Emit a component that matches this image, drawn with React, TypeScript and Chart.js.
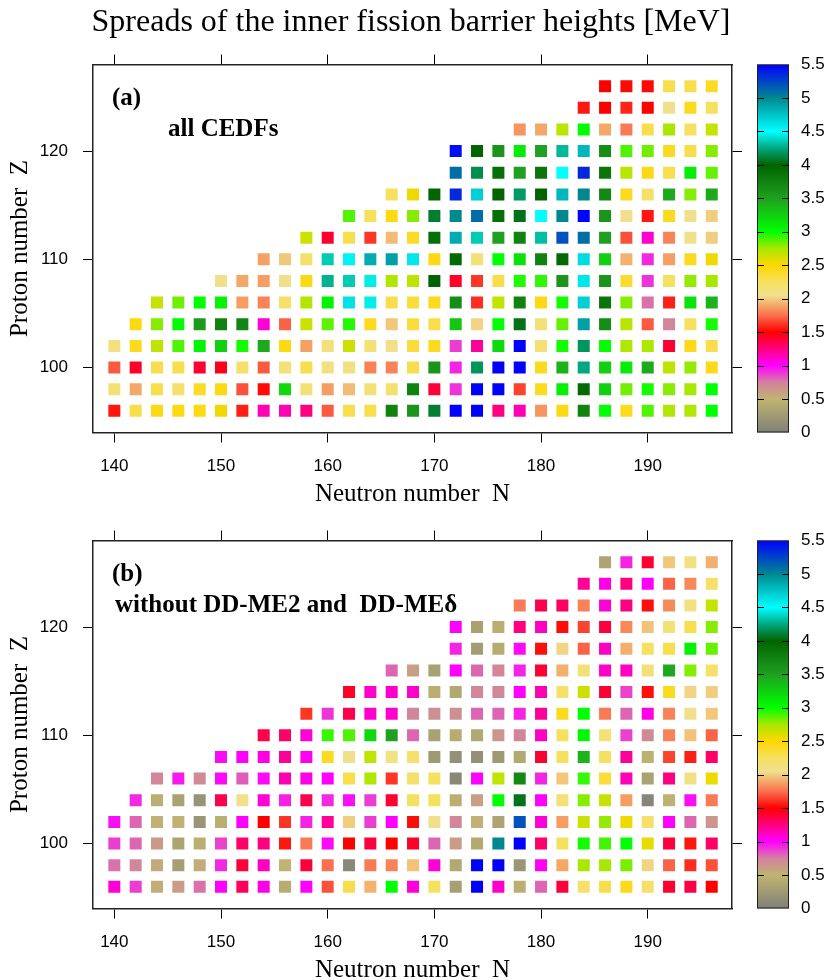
import React, { useEffect, useRef } from 'react';
import { Chart, registerables } from 'chart.js';

Chart.register(...registerables);

// ---------- data ----------
const Z_ROWS = [96, 98, 100, 102, 104, 106, 108, 110, 112, 114, 116, 118, 120, 122, 124, 126];
const ROW_FIRST_N = [140, 140, 140, 140, 142, 144, 150, 154, 158, 162, 166, 172, 172, 178, 184, 186];

// (a) all CEDFs : spread of inner barrier heights [MeV], one row per Z (N from ROW_FIRST_N in steps of 2)
const SPREAD_ALL: number[][] = [
  [1.55, 2.3, 2.45, 2.45, 2.45, 2.55, 1.57, 1.15, 1.15, 1.25, 1.7, 2.3, 2.3, 3.75, 3.6, 4.1, 5.5, 5.5, 1.25, 1.15, 1.85, 2.45, 3.75, 3.0, 2.42, 2.88, 2.72, 2.73, 3.0],
  [2.15, 1.9, 2.3, 2.2, 2.4, 2.45, 1.68, 1.52, 3.2, 2.15, 1.87, 1.95, 2.15, 2.2, 3.75, 1.38, 0.9, 5.5, 5.5, 1.65, 2.42, 3.08, 3.95, 3.25, 2.83, 2.97, 2.8, 2.75, 3.0],
  [1.7, 1.42, 2.3, 2.3, 1.4, 1.45, 2.2, 1.7, 2.15, 2.3, 2.1, 2.1, 1.8, 1.8, 2.3, 3.6, 0.93, 4.18, 5.5, 5.5, 2.42, 3.4, 4.25, 3.25, 3.1, 3.45, 2.68, 2.78, 2.43],
  [2.1, 2.42, 2.68, 2.88, 3.07, 3.25, 2.97, 3.45, 2.45, 1.88, 2.15, 2.65, 2.15, 2.07, 2.35, 2.42, 0.88, 1.2, 3.2, 5.5, 2.15, 2.97, 4.18, 3.0, 2.73, 2.73, 1.4, 2.43, 2.3],
  [2.45, 2.8, 3.02, 3.55, 3.75, 3.72, 1.08, 1.72, 2.65, 2.86, 2.95, 2.42, 1.98, 2.35, 2.3, 3.3, 2.02, 3.0, 4.05, 2.15, 2.85, 4.9, 3.65, 2.7, 1.7, 0.72, 2.25, 2.97],
  [2.67, 2.83, 3.0, 3.07, 1.87, 1.8, 2.2, 2.72, 3.07, 4.62, 4.45, 2.3, 2.35, 2.42, 3.65, 1.6, 2.68, 3.75, 2.45, 2.97, 4.7, 3.85, 2.8, 0.78, 1.57, 3.15, 3.4],
  [2.05, 1.9, 1.87, 2.05, 2.45, 4.28, 4.35, 4.45, 2.73, 2.7, 4.0, 1.42, 1.62, 2.3, 2.95, 2.93, 3.6, 4.6, 3.6, 2.38, 0.9, 2.25, 2.78, 2.75],
  [1.88, 1.98, 2.2, 4.35, 4.55, 4.85, 4.9, 4.6, 2.45, 3.95, 2.15, 3.0, 3.15, 3.75, 3.95, 4.65, 3.25, 1.93, 0.92, 1.87, 2.42, 2.55],
  [2.65, 1.4, 2.3, 1.62, 1.95, 2.4, 3.9, 4.85, 4.35, 3.5, 3.75, 4.32, 5.2, 5.1, 3.5, 1.68, 1.1, 1.8, 2.05, 2.0],
  [2.88, 2.25, 2.45, 2.8, 4.1, 5.0, 5.1, 3.9, 4.05, 4.5, 5.0, 5.5, 3.6, 2.05, 1.55, 2.42, 2.05, 2.0],
  [2.25, 2.55, 3.98, 5.35, 4.7, 4.0, 4.2, 4.0, 4.8, 5.0, 3.7, 2.42, 2.2, 3.45, 2.8, 3.45],
  [5.1, 4.15, 3.9, 3.5, 3.85, 4.5, 5.35, 3.85, 2.7, 2.45, 2.3, 3.1, 2.85],
  [5.45, 4.0, 3.6, 3.1, 3.5, 4.3, 4.8, 3.65, 2.88, 2.83, 2.42, 2.3, 2.8],
  [1.85, 1.9, 2.7, 3.02, 1.9, 1.78, 2.3, 2.75, 2.25, 2.67],
  [1.55, 1.5, 1.58, 1.5, 2.05, 2.42, 2.25],
  [1.5, 1.52, 1.52, 2.3, 2.3, 2.4],
];

// (b) without DD-ME2 and DD-MEdelta
const SPREAD_REDUCED: number[][] = [
  [1.08, 0.88, 0.54, 0.62, 0.78, 1.0, 1.32, 1.05, 0.42, 1.0, 1.68, 2.3, 1.93, 3.0, 1.07, 2.25, 0.3, 5.5, 1.1, 0.45, 0.8, 1.38, 2.2, 2.3, 2.43, 2.2, 1.4, 1.36, 1.5],
  [0.78, 0.72, 0.55, 0.3, 0.54, 0.92, 1.38, 1.12, 0.5, 1.38, 1.75, 0.08, 1.78, 1.8, 1.97, 1.08, 0.38, 5.5, 5.5, 0.2, 1.02, 1.9, 2.75, 2.75, 2.82, 2.02, 1.72, 1.6, 1.68],
  [0.88, 0.8, 0.63, 0.35, 0.45, 0.87, 1.3, 1.25, 1.55, 1.78, 0.98, 1.5, 1.38, 1.5, 1.42, 0.8, 0.62, 0.4, 5.0, 5.5, 1.3, 2.25, 2.97, 2.9, 3.0, 2.57, 1.38, 1.55, 1.3],
  [0.97, 0.8, 0.52, 0.52, 0.2, 0.45, 1.0, 1.5, 1.62, 0.93, 1.2, 2.0, 0.88, 1.0, 1.53, 2.05, 0.72, 0.52, 0.35, 5.2, 1.08, 1.87, 2.65, 2.78, 2.55, 2.2, 1.0, 0.8, 0.65],
  [0.92, 0.45, 0.33, 0.18, 1.35, 2.05, 1.08, 0.94, 1.35, 0.92, 0.97, 0.88, 1.4, 2.25, 2.25, 0.45, 0.6, 3.0, 4.05, 1.0, 2.15, 2.8, 2.67, 1.87, 0.05, 0.48, 0.97, 1.78],
  [0.72, 0.95, 0.7, 0.98, 0.82, 0.98, 1.15, 1.05, 1.0, 2.3, 2.73, 1.62, 2.2, 2.25, 0.08, 1.0, 2.68, 3.7, 0.93, 1.98, 2.92, 2.35, 1.15, 0.33, 1.25, 2.08, 2.55],
  [0.98, 1.0, 1.05, 1.2, 1.03, 2.42, 2.05, 2.68, 2.1, 2.2, 0.25, 0.15, 0.15, 0.25, 0.4, 1.4, 2.25, 3.4, 2.25, 1.2, 0.47, 1.65, 1.57, 1.3],
  [1.35, 1.3, 1.08, 2.92, 2.88, 3.2, 3.5, 0.8, 0.33, 0.42, 0.38, 0.65, 0.72, 1.12, 2.25, 3.05, 2.15, 0.87, 0.7, 1.8, 1.97, 1.72],
  [1.62, 0.9, 1.35, 1.1, 1.1, 0.72, 0.68, 0.68, 0.8, 0.8, 0.93, 1.2, 2.42, 3.0, 1.78, 0.8, 1.05, 1.8, 2.05, 1.98],
  [1.42, 1.1, 1.1, 1.1, 0.45, 0.38, 0.72, 0.72, 1.0, 1.15, 2.2, 2.65, 1.4, 0.87, 1.53, 2.42, 2.02, 2.0],
  [0.8, 0.6, 0.32, 1.0, 0.8, 0.72, 0.93, 1.4, 1.92, 2.15, 1.1, 1.12, 2.15, 3.45, 2.8, 2.2],
  [0.93, 0.28, 0.42, 0.98, 1.53, 2.02, 1.72, 1.12, 1.92, 2.25, 2.3, 3.07, 2.85],
  [1.0, 0.32, 0.45, 1.25, 1.12, 1.53, 1.65, 1.38, 1.82, 1.97, 2.15, 2.3, 2.8],
  [1.78, 1.35, 1.32, 1.8, 1.08, 1.25, 1.53, 1.82, 2.1, 2.67],
  [1.2, 1.05, 1.25, 1.02, 1.72, 1.82, 2.2],
  [0.35, 0.93, 1.4, 1.98, 2.1, 1.92],
];

const N_TICKS = [140, 150, 160, 170, 180, 190];
const Z_TICKS = [100, 110, 120];
const CBAR_TICKS = [0, 0.5, 1, 1.5, 2, 2.5, 3, 3.5, 4, 4.5, 5, 5.5];
const CBAR_MAX = 5.5;

const CMAP_VALUES = [0, 0.5, 0.75, 1.0, 1.25, 1.5, 1.75, 1.9, 2.05, 2.25, 2.5, 2.75, 3.0, 3.5, 4.0, 4.25, 4.5, 5.0, 5.5];
const CMAP_COLORS = ['#808078', '#c0b470', '#d480a0', '#ff00ff', '#ff0080', '#ff0000', '#fa7050', '#f4a868', '#f0e08c', '#f6e060', '#ffd700', '#a8e800', '#00ff00', '#20a020', '#006400', '#00a880', '#00ffff', '#008890', '#0000ff'];

// ---------- helpers ----------
function hexToRgb(h: string): number[] {
  return [parseInt(h.slice(1, 3), 16), parseInt(h.slice(3, 5), 16), parseInt(h.slice(5, 7), 16)];
}
function colorFor(v: number): string {
  const x = Math.max(0, Math.min(CBAR_MAX, v));
  for (let i = 0; i < CMAP_VALUES.length - 1; i++) {
    const a = CMAP_VALUES[i], b = CMAP_VALUES[i + 1];
    if (x >= a && x <= b) {
      const t = (x - a) / (b - a);
      const ca = hexToRgb(CMAP_COLORS[i]), cb = hexToRgb(CMAP_COLORS[i + 1]);
      const c = ca.map((u, k) => Math.round(u + (cb[k] - u) * t));
      return `rgb(${c[0]},${c[1]},${c[2]})`;
    }
  }
  return CMAP_COLORS[CMAP_COLORS.length - 1];
}
function buildPoints(rows: number[][]) {
  const pts: { x: number; y: number; v: number }[] = [];
  rows.forEach((row, i) => {
    const z = Z_ROWS[i];
    const n0 = ROW_FIRST_N[i];
    row.forEach((v, j) => pts.push({ x: n0 + 2 * j, y: z, v }));
  });
  return pts;
}

const SERIF = 'Liberation Serif';
const SANS = 'Liberation Sans';

type PanelSpec = {
  rows: number[][];
  tag: string;
  caption: string;
  captionX: number;
  title?: string;
  width: number;
  height: number;
  padTop: number;
  bottomAxisH: number;
  xTitlePadBottom: number;
};

function makeChart(canvas: HTMLCanvasElement, spec: PanelSpec) {
  const pts = buildPoints(spec.rows);
  const colors = pts.map((p) => colorFor(p.v));

  const panelPlugin = {
    id: 'panelExtras',
    afterDraw(chart: any) {
      const { ctx, chartArea } = chart;
      const { top, bottom, right, left } = chartArea;
      ctx.save();
      // panel texts
      ctx.fillStyle = '#000';
      ctx.textBaseline = 'middle';
      ctx.textAlign = 'left';
      ctx.font = `bold 25px "${SERIF}"`;
      ctx.fillText(spec.tag, left + 19, top + 34.5);
      ctx.fillText(spec.caption, left + spec.captionX, top + 65.5);

      // colour bar
      const bx = right + 25;
      const bw = 32;
      const yOf = (v: number) => bottom - (v / CBAR_MAX) * (bottom - top);
      const grad = ctx.createLinearGradient(0, bottom, 0, top);
      CMAP_VALUES.forEach((v, i) => grad.addColorStop(v / CBAR_MAX, CMAP_COLORS[i]));
      ctx.fillStyle = grad;
      ctx.fillRect(bx, top, bw, bottom - top);
      ctx.strokeStyle = '#222';
      ctx.lineWidth = 1;
      ctx.strokeRect(bx + 0.5, top + 0.5, bw - 1, bottom - top - 1);
      ctx.beginPath();
      CBAR_TICKS.forEach((v) => {
        if (v <= 0 || v >= CBAR_MAX) return;
        const y = Math.round(yOf(v)) + 0.5;
        ctx.moveTo(bx, y);
        ctx.lineTo(bx + 7, y);
        ctx.moveTo(bx + bw - 7, y);
        ctx.lineTo(bx + bw, y);
      });
      ctx.strokeStyle = '#000';
      ctx.stroke();
      ctx.fillStyle = '#000';
      ctx.font = `17px "${SANS}"`;
      ctx.textAlign = 'left';
      ctx.textBaseline = 'middle';
      CBAR_TICKS.forEach((v) => {
        ctx.fillText(String(v), bx + bw + 12, yOf(v));
      });
      ctx.restore();
    },
  };

  const tickFont = { family: SANS, size: 17 };
  const gridOpts = { display: true, drawOnChartArea: false, drawTicks: true, tickLength: 10, color: '#000', lineWidth: 1 };
  const borderOpts = { display: true, color: '#222', width: 1.5 };

  return new Chart(canvas, {
    type: 'scatter',
    data: {
      datasets: [
        {
          data: pts,
          pointStyle: 'rect',
          pointRadius: 8.49,
          pointHoverRadius: 8.49,
          pointBackgroundColor: colors,
          pointBorderWidth: 0,
          pointBorderColor: colors,
        } as any,
      ],
    },
    options: {
      responsive: false,
      animation: false,
      events: [],
      layout: { padding: { left: 0, right: 12, top: spec.padTop, bottom: 0 } },
      plugins: {
        legend: { display: false },
        tooltip: { enabled: false },
        title: spec.title
          ? {
              display: true,
              text: spec.title,
              color: '#000',
              font: { family: SERIF, size: 32, weight: 'normal', lineHeight: 1.2 },
              padding: { top: 3.5, bottom: 12.6 },
            }
          : { display: false },
      },
      scales: {
        x: {
          type: 'linear',
          position: 'bottom',
          min: 138,
          max: 197.9,
          afterBuildTicks: (s: any) => {
            s.ticks = N_TICKS.map((v) => ({ value: v }));
          },
          afterFit: (s: any) => {
            s.height = spec.bottomAxisH;
          },
          grid: gridOpts,
          border: borderOpts,
          ticks: { display: true, padding: 13.3, font: tickFont, color: '#000', maxRotation: 0, autoSkip: false },
          title: {
            display: true,
            text: 'Neutron number  N',
            color: '#000',
            font: { family: SERIF, size: 25, lineHeight: 1.2 },
            padding: { top: 0, bottom: spec.xTitlePadBottom },
          },
        },
        xTop: {
          type: 'linear',
          axis: 'x',
          position: 'top',
          min: 138,
          max: 197.9,
          afterBuildTicks: (s: any) => {
            s.ticks = N_TICKS.map((v) => ({ value: v }));
          },
          afterFit: (s: any) => {
            s.height = 10;
          },
          grid: gridOpts,
          border: borderOpts,
          ticks: { display: false },
        },
        y: {
          type: 'linear',
          position: 'left',
          min: 94,
          max: 128,
          afterBuildTicks: (s: any) => {
            s.ticks = Z_TICKS.map((v) => ({ value: v }));
          },
          afterFit: (s: any) => {
            s.width = 93;
          },
          grid: gridOpts,
          border: borderOpts,
          ticks: { display: true, padding: 15, font: tickFont, color: '#000', autoSkip: false },
          title: {
            display: true,
            text: 'Proton number  Z',
            color: '#000',
            font: { family: SERIF, size: 25, lineHeight: 1.2 },
            padding: { top: 5, bottom: 0 },
          },
        },
        yRight: {
          type: 'linear',
          axis: 'y',
          position: 'right',
          min: 94,
          max: 128,
          afterBuildTicks: (s: any) => {
            s.ticks = Z_TICKS.map((v) => ({ value: v }));
          },
          afterFit: (s: any) => {
            s.width = 90;
          },
          grid: gridOpts,
          border: borderOpts,
          ticks: { display: false },
        },
      } as any,
    },
    plugins: [panelPlugin],
  });
}

const PANEL_A: PanelSpec = {
  rows: SPREAD_ALL,
  tag: '(a)',
  caption: 'all CEDFs',
  captionX: 75,
  title: 'Spreads of the inner fission barrier heights [MeV]',
  width: 834,
  height: 510,
  padTop: 0,
  bottomAxisH: 77.5,
  xTitlePadBottom: 1,
};

const PANEL_B: PanelSpec = {
  rows: SPREAD_REDUCED,
  tag: '(b)',
  caption: 'without DD-ME2 and  DD-MEδ',
  captionX: 22,
  width: 834,
  height: 490,
  padTop: 20.5,
  bottomAxisH: 91.5,
  xTitlePadBottom: 15,
};

export default function App() {
  const refA = useRef<HTMLCanvasElement | null>(null);
  const refB = useRef<HTMLCanvasElement | null>(null);

  useEffect(() => {
    const charts: Chart[] = [];
    if (refA.current) charts.push(makeChart(refA.current, PANEL_A));
    if (refB.current) charts.push(makeChart(refB.current, PANEL_B));
    return () => charts.forEach((c) => c.destroy());
  }, []);

  return (
    <div style={{ position: 'absolute', left: 0, top: 0, width: 834, height: 980, overflow: 'hidden', background: '#fff' }}>
      <div style={{ position: 'absolute', left: 0, top: 0, width: 834, height: PANEL_A.height }}>
        <canvas ref={refA} width={834} height={PANEL_A.height} style={{ width: 834, height: PANEL_A.height, display: 'block' }} />
      </div>
      <div style={{ position: 'absolute', left: 0, top: 510, width: 834, height: PANEL_B.height }}>
        <canvas ref={refB} width={834} height={PANEL_B.height} style={{ width: 834, height: PANEL_B.height, display: 'block' }} />
      </div>
    </div>
  );
}
